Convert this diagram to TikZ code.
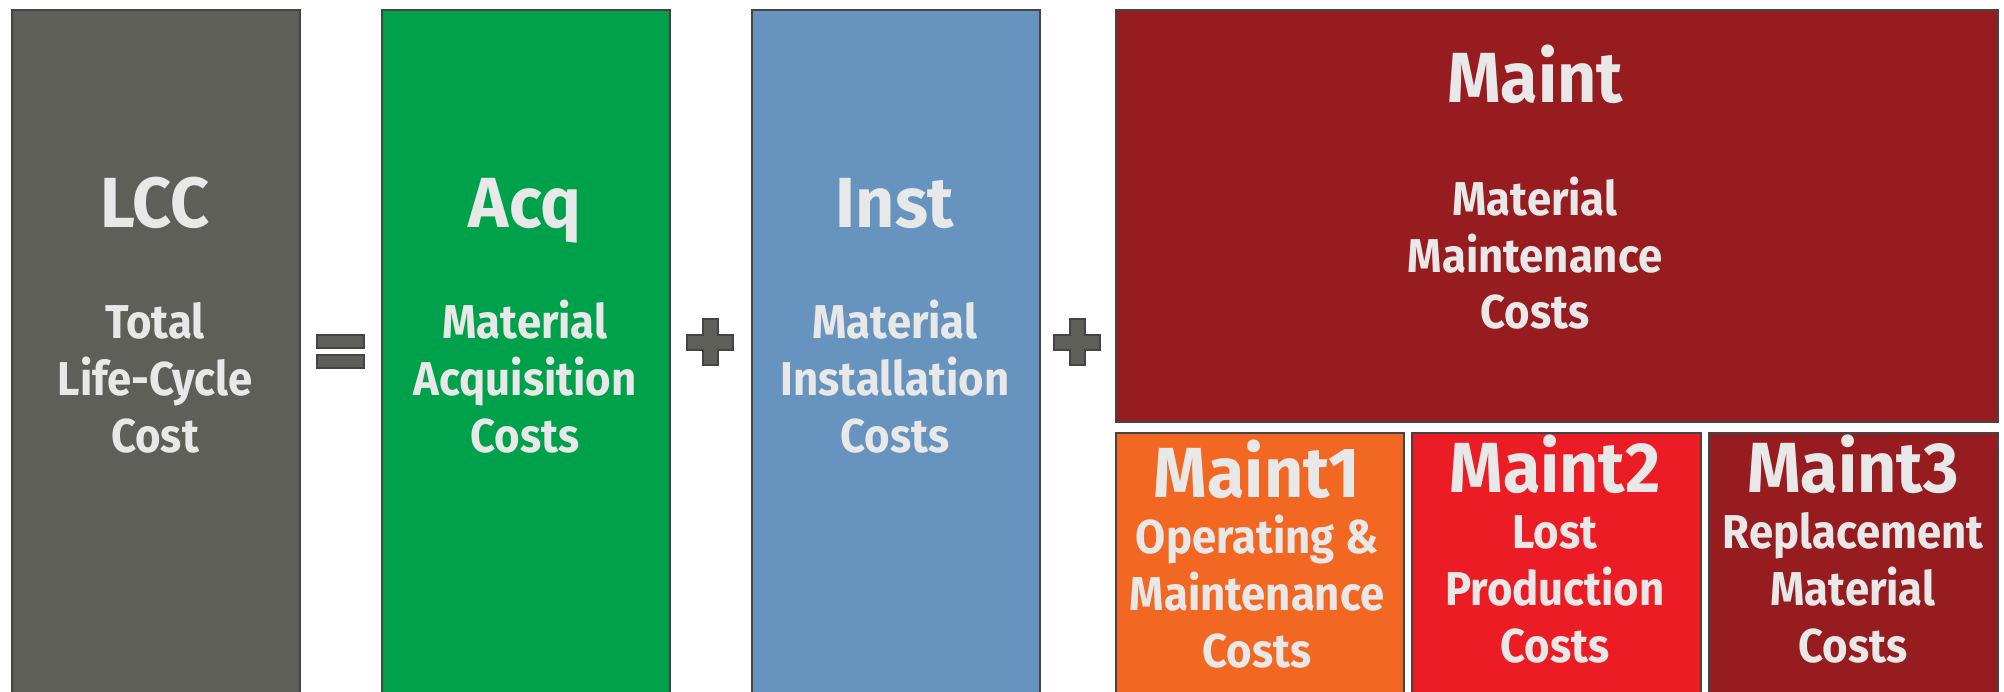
\documentclass[tikz,border=0pt]{standalone}
\usepackage{fontspec}
\setmainfont{Fira Sans}[FakeStretch=0.92]
\newfontfamily\titlefont{Fira Sans}[FakeStretch=0.96]
\definecolor{lccgray}{HTML}{5F5F5A}
\definecolor{acqgreen}{HTML}{00A14B}
\definecolor{instblue}{HTML}{6794BE}
\definecolor{maintred}{HTML}{961C20}
\definecolor{orangeM}{HTML}{F26722}
\definecolor{redM}{HTML}{EC1C24}
\definecolor{edgegray}{HTML}{444444}
\definecolor{txtgray}{HTML}{E8E8E8}
\definecolor{signgray}{HTML}{5F5F5A}
\begin{document}
\begin{tikzpicture}[x=1pt,y=-1pt,
  box/.style={draw=edgegray, line width=2pt, inner sep=0pt, anchor=north west},
  ttl/.style={anchor=base, inner sep=0pt, text=txtgray, font=\titlefont\bfseries\fontsize{71}{71}\selectfont},
  sub/.style={anchor=base, inner sep=0pt, text=txtgray, font=\bfseries\fontsize{47.5}{47.5}\selectfont},
  sign/.style={fill=signgray, draw=edgegray, line width=2pt}]
\useasboundingbox (0,0) rectangle (2004,691);
\fill[white] (0,0) rectangle (2004,691);
\clip (0,0) rectangle (2004,691);
% boxes
\node[box, fill=lccgray, minimum width=288pt, minimum height=700pt] (lcc) at (11,9) {};
\node[box, fill=acqgreen, minimum width=288pt, minimum height=700pt] (acq) at (381,9) {};
\node[box, fill=instblue, minimum width=288pt, minimum height=700pt] (inst) at (751,9) {};
\node[box, fill=maintred, minimum width=882pt, minimum height=412pt] (maint) at (1115,9) {};
\node[box, fill=orangeM, minimum width=288pt, minimum height=300pt] (m1) at (1115,432) {};
\node[box, fill=redM, minimum width=289pt, minimum height=300pt] (m2) at (1411,432) {};
\node[box, fill=maintred, minimum width=289pt, minimum height=300pt] (m3) at (1708,432) {};
% signs
\draw[sign] (317,335) rectangle (364,348);
\draw[sign] (317,355) rectangle (364,368);
\draw[sign] (702.5,319) -- (717.5,319) -- (717.5,334.5) -- (733,334.5) -- (733,349.5) -- (717.5,349.5) -- (717.5,365) -- (702.5,365) -- (702.5,349.5) -- (687,349.5) -- (687,334.5) -- (702.5,334.5) -- cycle;
\draw[sign] (1069.5,319) -- (1084.5,319) -- (1084.5,334.5) -- (1100,334.5) -- (1100,349.5) -- (1084.5,349.5) -- (1084.5,365) -- (1069.5,365) -- (1069.5,349.5) -- (1054,349.5) -- (1054,334.5) -- (1069.5,334.5) -- cycle;
% LCC
\node[ttl] (lccT) at (155,227) {LCC};
\node[sub] (lccA) at (155,338) {Total};
\node[sub] (lccB) at (155,395) {Life-Cycle};
\node[sub] (lccC) at (155,452) {Cost};
% Acq
\node[ttl] (acqT) at (525,227) {Acq};
\node[sub] (acqA) at (525,338) {Material};
\node[sub] (acqB) at (525,395) {Acquisition};
\node[sub] (acqC) at (525,452) {Costs};
% Inst
\node[ttl] (instT) at (895,227) {Inst};
\node[sub] (instA) at (895,338) {Material};
\node[sub] (instB) at (895,395) {Installation};
\node[sub] (instC) at (895,452) {Costs};
% Maint
\node[ttl] (maintT) at (1535,102) {Maint};
\node[sub] (maintA) at (1535,215) {Material};
\node[sub] (maintB) at (1535,272) {Maintenance};
\node[sub] (maintC) at (1535,328) {Costs};
% Maint1
\node[ttl] (m1T) at (1257,497) {Maint1};
\node[sub] (m1A) at (1257,553) {Operating \&};
\node[sub] (m1B) at (1257,610) {Maintenance};
\node[sub] (m1C) at (1257,667) {Costs};
% Maint2
\node[ttl] (m2T) at (1555,492) {Maint2};
\node[sub] (m2A) at (1555,548) {Lost};
\node[sub] (m2B) at (1555,605) {Production};
\node[sub] (m2C) at (1555,662) {Costs};
% Maint3
\node[ttl] (m3T) at (1853,492) {Maint3};
\node[sub] (m3A) at (1853,548) {Replacement};
\node[sub] (m3B) at (1853,605) {Material};
\node[sub] (m3C) at (1853,662) {Costs};
\end{tikzpicture}
\end{document}
